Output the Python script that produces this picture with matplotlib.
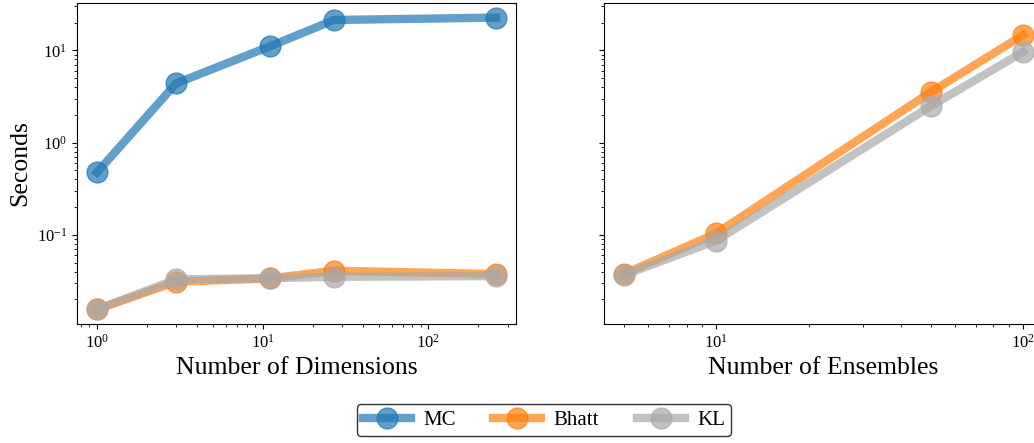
import numpy as np
import matplotlib.pyplot as plt

plt.rcParams['font.family'] = ['Liberation Serif', 'DejaVu Serif']
plt.rcParams['mathtext.fontset'] = 'stix'

# timing results (seconds)
dims = [1, 3, 11, 27, 256]
mc_dims = [0.475, 4.38, 11.0, 21.3, 22.6]
bhatt_dims = [0.0156, 0.0311, 0.0338, 0.0409, 0.0377]
kl_dims = [0.0156, 0.0330, 0.0340, 0.0352, 0.0358]

ensembles = [5, 10, 50, 100]
bhatt_ens = [0.0377, 0.104, 3.52, 14.6]
kl_ens = [0.0367, 0.0868, 2.48, 9.6]

colors = {'MC': 'tab:blue', 'Bhatt': 'tab:orange', 'KL': 'darkgray'}
style = dict(lw=6, marker='o', markersize=15, alpha=0.7)

fig = plt.figure(figsize=(10.34, 4.43), dpi=100)
ax1 = fig.add_axes([0.0745, 0.2686, 0.4246, 0.7246])
ax2 = fig.add_axes([0.5841, 0.2686, 0.4246, 0.7246], sharey=ax1)

ax1.plot(dims, mc_dims, color=colors['MC'], label='MC', **style)
ax1.plot(dims, bhatt_dims, color=colors['Bhatt'], label='Bhatt', **style)
ax1.plot(dims, kl_dims, color=colors['KL'], label='KL', **style)

ax2.plot(ensembles, bhatt_ens, color=colors['Bhatt'], **style)
ax2.plot(ensembles, kl_ens, color=colors['KL'], **style)

for ax in (ax1, ax2):
    ax.set_xscale('log')
    ax.set_yscale('log')
    ax.tick_params(labelsize=12)

ax2.tick_params(labelleft=False)
ax1.set_xlabel('Number of Dimensions', fontsize=18.5)
ax2.set_xlabel('Number of Ensembles', fontsize=18.5)
ax1.set_ylabel('Seconds', fontsize=18.5)

fig.legend(loc='lower center', ncol=3, fontsize=15, bbox_to_anchor=(0.526, -0.008),
           edgecolor='black', handlelength=2.3, handletextpad=0.6,
           columnspacing=1.8, borderpad=0.3)

fig.savefig('out.png', dpi=100)
